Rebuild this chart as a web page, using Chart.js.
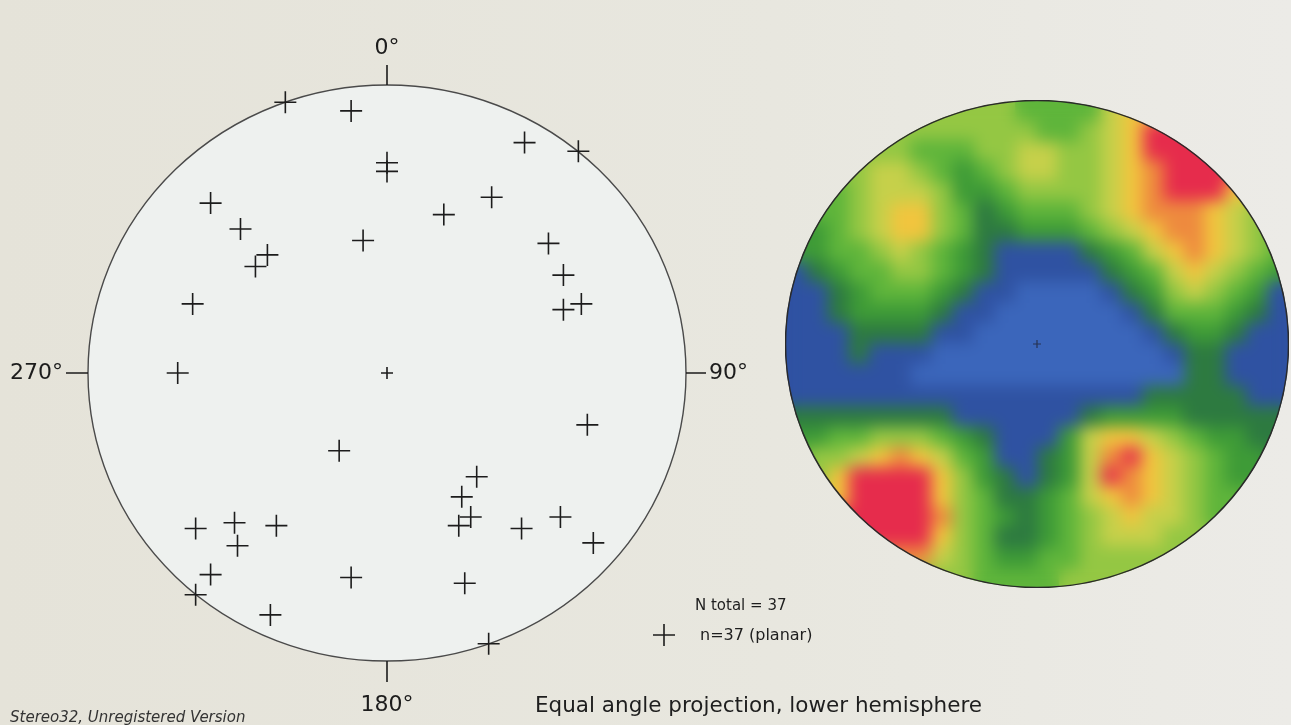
<!DOCTYPE html>
<html>
<head>
<meta charset="utf-8">
<title>Stereonet</title>
<script src="https://cdn.jsdelivr.net/npm/chart.js@4.4.1/dist/chart.umd.min.js"></script>
<style>
  html, body { margin: 0; padding: 0; }
  body {
    width: 1291px; height: 725px; overflow: hidden; position: relative;
    background: linear-gradient(90deg, #e5e3d9 0%, #e8e7df 60%, #ecebe7 100%);
    font-family: 'DejaVu Sans', sans-serif; color: #1e1e1e;
  }
  canvas { position: absolute; }
  #net { left: 0; top: 0; }
  #density { left: 785px; top: 100px; }
  .txt { position: absolute; line-height: 1; white-space: nowrap; transform: translateY(-50%); }
</style>
</head>
<body>
<canvas id="net" width="1291" height="725"></canvas>
<canvas id="density" width="504" height="488"></canvas>

<div class="txt" style="left:695px; top:605px; font-size:15px;">N total = 37</div>
<div class="txt" style="left:700px; top:635px; font-size:16px;">n=37 (planar)</div>
<div class="txt" style="left:535px; top:705px; font-size:21.5px;">Equal angle projection, lower hemisphere</div>
<div class="txt" style="left:10px; top:717px; font-size:15px; font-style:italic; color:#333;">Stereo32, Unregistered Version</div>

<script>
// poles of the 37 planes, projected onto the unit net (x = east, y = north)
const poleX = [-0.34, -0.12, 0.00, 0.00, -0.59, -0.49, -0.40, -0.44, -0.08, -0.65,
               0.46, 0.64, 0.35, 0.19, 0.54, 0.59, 0.59, 0.65, -0.16, -0.64,
               -0.51, -0.37, -0.50, -0.59, -0.12, -0.64, -0.39, 0.67, 0.30, 0.25,
               0.28, 0.24, 0.45, 0.58, 0.69, 0.26, 0.34, -0.70];
const poleY = [0.94, 0.91, 0.73, 0.70, 0.59, 0.50, 0.41, 0.37, 0.46, 0.24,
               0.80, 0.77, 0.61, 0.55, 0.45, 0.34, 0.22, 0.24, -0.27, -0.54,
               -0.52, -0.53, -0.60, -0.70, -0.71, -0.77, -0.84, -0.18, -0.36, -0.43,
               -0.50, -0.53, -0.54, -0.50, -0.59, -0.73, -0.94, 0.00];

const dirLabels = ['0°', '90°', '180°', '270°'];

// density contour levels, 24 x 24 grid over the net (row 0 = north)
const densityLevels = [
  '555555555554444677777777',
  '555555555555445679999999',
  '555555444556655679999999',
  '555566543456655678999999',
  '444566653345555678999777',
  '444567754234445678887655',
  '334567754223334567887654',
  '334456543211112346787654',
  '123445543211111234676543',
  '112344432110000123565431',
  '112333321100000012444321',
  '111222211000000001233211',
  '111211100000000000122111',
  '111111000000000000022111',
  '111111111111111112222211',
  '222222221111112333322222',
  '334455543211136776543322',
  '455678764311236897654332',
  '557999975321236987654333',
  '777999975422346787654444',
  '999999985432345676654444',
  '999999975422345666555555',
  '888888865433445555555555',
  '555555555444455555555555'
];
const levelColors = ['#3b66bb', '#2f52a2', '#2d7a40', '#3e9b37', '#5fb53b', '#94c743',
                     '#c6d04a', '#f1c53e', '#ee8a3e', '#e62c4c'];

const netFrame = {
  id: 'netFrame',
  beforeDatasetsDraw(chart) {
    const { ctx, scales: { x, y } } = chart;
    const cx = x.getPixelForValue(0), cy = y.getPixelForValue(0);
    const rx = x.getPixelForValue(1) - cx, ry = cy - y.getPixelForValue(1);
    ctx.save();
    ctx.beginPath();
    ctx.ellipse(cx, cy, rx, ry, 0, 0, Math.PI * 2);
    ctx.fillStyle = '#eef1ef';
    ctx.fill();
    ctx.strokeStyle = '#4a4a4a';
    ctx.lineWidth = 1.4;
    ctx.stroke();

    // direction ticks
    ctx.strokeStyle = '#1c1c1c';
    ctx.lineWidth = 1.6;
    ctx.beginPath();
    ctx.moveTo(cx, cy - ry); ctx.lineTo(cx, cy - ry - 20);
    ctx.moveTo(cx + rx, cy); ctx.lineTo(cx + rx + 20, cy);
    ctx.moveTo(cx, cy + ry); ctx.lineTo(cx, cy + ry + 21);
    ctx.moveTo(cx - rx, cy); ctx.lineTo(cx - rx - 22, cy);
    // centre mark
    ctx.moveTo(cx - 6, cy); ctx.lineTo(cx + 6, cy);
    ctx.moveTo(cx, cy - 6); ctx.lineTo(cx, cy + 6);
    ctx.stroke();

    ctx.fillStyle = '#1c1c1c';
    ctx.font = '22px "DejaVu Sans"';
    ctx.textBaseline = 'middle';
    ctx.textAlign = 'center';
    ctx.fillText(dirLabels[0], cx, cy - ry - 37);
    ctx.fillText(dirLabels[2], cx, cy + ry + 44);
    ctx.textAlign = 'left';
    ctx.fillText(dirLabels[1], cx + rx + 23, cy);
    ctx.textAlign = 'right';
    ctx.fillText(dirLabels[3], cx - rx - 25, cy);

    // legend symbol
    ctx.beginPath();
    ctx.moveTo(653, 635); ctx.lineTo(675, 635);
    ctx.moveTo(664, 624); ctx.lineTo(664, 646);
    ctx.stroke();
    ctx.restore();
  }
};

new Chart(document.getElementById('net'), {
  type: 'scatter',
  data: {
    datasets: [{
      data: poleX.map((x, i) => ({ x, y: poleY[i] })),
      pointStyle: 'cross',
      pointRadius: 11,
      pointBorderColor: '#1c1c1c',
      pointBorderWidth: 1.6,
      clip: false
    }]
  },
  options: {
    responsive: false,
    animation: false,
    events: [],
    layout: { autoPadding: false, padding: { left: 88, top: 85, right: 605, bottom: 64 } },
    scales: {
      x: { min: -1, max: 1, display: false },
      y: { min: -1, max: 1, display: false }
    },
    plugins: { legend: { display: false }, tooltip: { enabled: false } }
  },
  plugins: [netFrame]
});

// smooth the level cells and cut them to the net outline
const densityClip = {
  id: 'densityClip',
  afterDatasetsDraw(chart) {
    const { ctx, canvas, chartArea: a } = chart;
    const cx = (a.left + a.right) / 2, cy = (a.top + a.bottom) / 2;
    const rx = (a.right - a.left) / 2, ry = (a.bottom - a.top) / 2;
    const tmp = document.createElement('canvas');
    tmp.width = canvas.width;
    tmp.height = canvas.height;
    tmp.getContext('2d').drawImage(canvas, 0, 0);
    ctx.save();
    ctx.filter = 'blur(8px)';
    ctx.drawImage(tmp, 0, 0);
    ctx.restore();
    ctx.save();
    ctx.globalCompositeOperation = 'destination-in';
    ctx.beginPath();
    ctx.ellipse(cx, cy, rx, ry, 0, 0, Math.PI * 2);
    ctx.fill();
    ctx.restore();
    ctx.save();
    ctx.beginPath();
    ctx.ellipse(cx, cy, rx - 0.5, ry - 0.5, 0, 0, Math.PI * 2);
    ctx.strokeStyle = '#2a2a2a';
    ctx.lineWidth = 1.5;
    ctx.stroke();
    ctx.strokeStyle = 'rgba(30,30,40,0.7)';
    ctx.lineWidth = 1.2;
    ctx.beginPath();
    ctx.moveTo(cx - 4, cy); ctx.lineTo(cx + 4, cy);
    ctx.moveTo(cx, cy - 4); ctx.lineTo(cx, cy + 4);
    ctx.stroke();
    ctx.restore();
  }
};

const cells = levelColors.map(() => []);
densityLevels.forEach((row, r) => {
  row.split('').forEach((ch, c) => cells[Number(ch)].push({ x: c, y: r }));
});

new Chart(document.getElementById('density'), {
  type: 'scatter',
  data: {
    datasets: cells.map((pts, i) => ({
      data: pts,
      pointStyle: 'rect',
      pointRadius: 16,
      pointBackgroundColor: levelColors[i],
      pointBorderWidth: 0,
      clip: false
    }))
  },
  options: {
    responsive: false,
    animation: false,
    events: [],
    layout: { autoPadding: false, padding: 0 },
    scales: {
      x: { min: -0.5, max: 23.5, display: false },
      y: { min: -0.5, max: 23.5, reverse: true, display: false }
    },
    plugins: { legend: { display: false }, tooltip: { enabled: false } }
  },
  plugins: [densityClip]
});
</script>
</body>
</html>
